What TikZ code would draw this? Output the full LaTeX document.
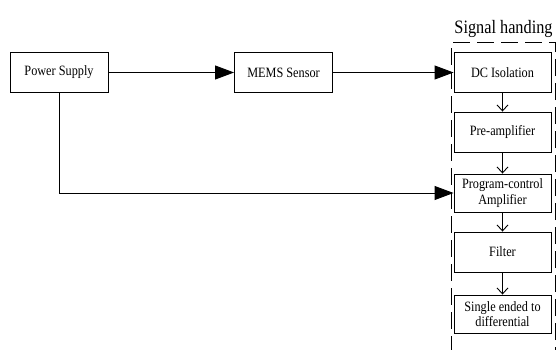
\documentclass[tikz,border=0pt]{standalone}
\usepackage{fontspec}
\setmainfont{Liberation Serif}
\newfontfamily\narrowserif{Liberation Serif}[FakeStretch=0.86]
\usetikzlibrary{positioning,arrows.meta}

\begin{document}
\begin{tikzpicture}[x=1bp, y=-1bp]
        % Box and connector styles
        \tikzset{
            block/.style={draw, line width=0.9bp, minimum width=98bp, minimum height=40bp,
                inner sep=1bp, align=center, font=\narrowserif\fontsize{14.3}{15.5}\selectfont},
            bigarrow/.style={line width=0.9bp, -{Triangle[length=19bp, width=14bp]}},
            smallarrow/.style={line width=0.9bp, -{Straight Barb[length=6bp, width=11bp]}},
            groupbox/.style={draw, line width=0.8bp, dash pattern=on 17bp off 7bp},
        }

        \useasboundingbox (0, 0) rectangle (557, 349);

        % Main chain
        \node[block] (power) at (59, 72.5) {Power Supply};
        \node[block] (mems) at (283.5, 72.5) {MEMS Sensor};

        % Signal handling column
        \node[block, minimum width=97bp] (dciso) at (502.5, 72.5) {DC Isolation};
        \node[block, minimum width=97bp] (preamp) at (502.5, 132) {Pre-amplifier};
        \node[block, minimum width=97bp, minimum height=38bp] (pga) at (502.5, 193) {Program-control\\Amplifier};
        \node[block, minimum width=97bp] (filter) at (502.5, 252) {Filter};
        \node[block, minimum width=97bp, minimum height=38bp] (s2d) at (502.5, 314) {Single ended to\\differential};

        % Dashed frame around the column, runs off the bottom
        \node[groupbox, minimum width=104bp, minimum height=314bp] (group) at (503.5, 199) {};
        \node[font=\narrowserif\fontsize{19}{20}\selectfont, above=0bp of group.north] (grouptitle) {Signal handing};

        \draw[bigarrow] (power) -- (mems);
        \draw[bigarrow] (mems) -- (dciso);
        \draw[bigarrow] (power.south) |- (pga.west);

        \draw[smallarrow] (dciso) -- (preamp);
        \draw[smallarrow] (preamp) -- (pga);
        \draw[smallarrow] (pga) -- (filter);
        \draw[smallarrow] (filter) -- (s2d);
\end{tikzpicture}
\end{document}
